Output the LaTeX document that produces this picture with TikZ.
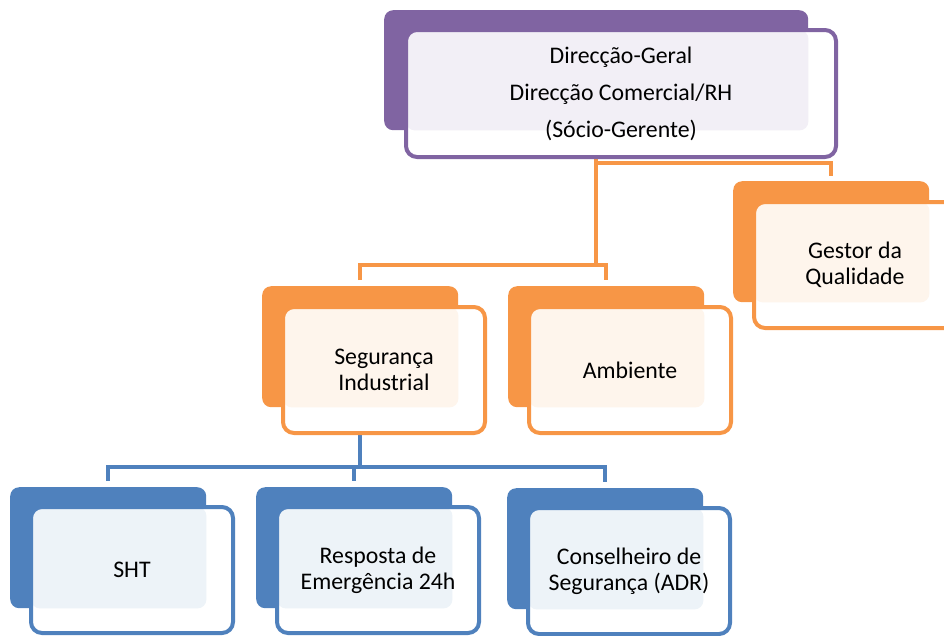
\documentclass[tikz,border=0pt]{standalone}
\usepackage{fontspec}
\setmainfont{Carlito}
\usetikzlibrary{backgrounds}
\definecolor{dgpurple}{HTML}{8064A2}
\definecolor{dgorange}{HTML}{F79646}
\definecolor{dgblue}{HTML}{4F81BD}
\tikzset{
  backbox/.style={rectangle, rounded corners=9pt, fill=#1, inner sep=0pt,
    minimum width=196pt, minimum height=121pt, anchor=north west},
  frontbox/.style n args={2}{rectangle, rounded corners=11pt, draw=#1, fill=white,
    line width=4pt, minimum width=202pt, minimum height=126pt, anchor=north west,
    align=center, inner sep=0pt, font={\fontsize{23.8}{26}\selectfont},
    path picture={\fill[#1!10, rounded corners=9pt]
      (path picture bounding box.north west) rectangle (#2.south east);}},
  link/.style={draw=#1, line width=4pt}
}

\begin{document}
\begin{tikzpicture}[x=1pt,y=-1pt]
\useasboundingbox (0,0) rectangle (944,635);

% top: direccao
\node[backbox=dgpurple, minimum width=424pt, minimum height=120pt] (dgback) at (384,10) {};
\node[frontbox={dgpurple}{dgback}, minimum width=430pt, minimum height=127pt,
  font={\fontsize{23.8}{37}\selectfont}] (dg) at ([shift={(20,18)}]dgback.north west)
  {Direcção-Geral\\Direcção Comercial/RH\\(Sócio-Gerente)};

% second level
\node[backbox=dgorange] (gqback) at (733,181) {};
\node[frontbox={dgorange}{gqback}] (gq) at ([shift={(19,19)}]gqback.north west)
  {Gestor da\\Qualidade};

\node[backbox=dgorange] (segback) at (262,286) {};
\node[frontbox={dgorange}{segback}] (seg) at ([shift={(19,19)}]segback.north west)
  {Segurança\\Industrial};

\node[backbox=dgorange] (ambback) at (508,286) {};
\node[frontbox={dgorange}{ambback}] (amb) at ([shift={(19,19)}]ambback.north west)
  {Ambiente};

% third level
\node[backbox=dgblue] (shtback) at (10,487) {};
\node[frontbox={dgblue}{shtback}] (sht) at ([shift={(19,18)}]shtback.north west)
  {SHT};

\node[backbox=dgblue] (respback) at (256,487) {};
\node[frontbox={dgblue}{respback}] (resp) at ([shift={(19,18)}]respback.north west)
  {Resposta de\\Emergência 24h};

\node[backbox=dgblue] (adrback) at (507,488) {};
\node[frontbox={dgblue}{adrback}] (adr) at ([shift={(19,18)}]adrback.north west)
  {Conselheiro de\\Segurança (ADR)};

% connectors
\begin{scope}[on background layer]
\draw[link=dgorange] (dgback.south) -- ++(0,135) coordinate (obus);
\draw[link=dgorange] ([yshift=6pt]segback.north) |- (obus) -| ([yshift=6pt]ambback.north);
\draw[link=dgorange] (dgback.south) -- ++(0,33) -| ([yshift=5pt]gqback.north);

\draw[link=dgblue] (segback.south) -- ++(0,60) coordinate (bbus);
\draw[link=dgblue] ([yshift=6pt]shtback.north) |- (bbus) -| ([yshift=6pt]adrback.north);
\draw[link=dgblue] (bbus -| respback.north) -- ([yshift=6pt]respback.north);
\end{scope}
\end{tikzpicture}
\end{document}
